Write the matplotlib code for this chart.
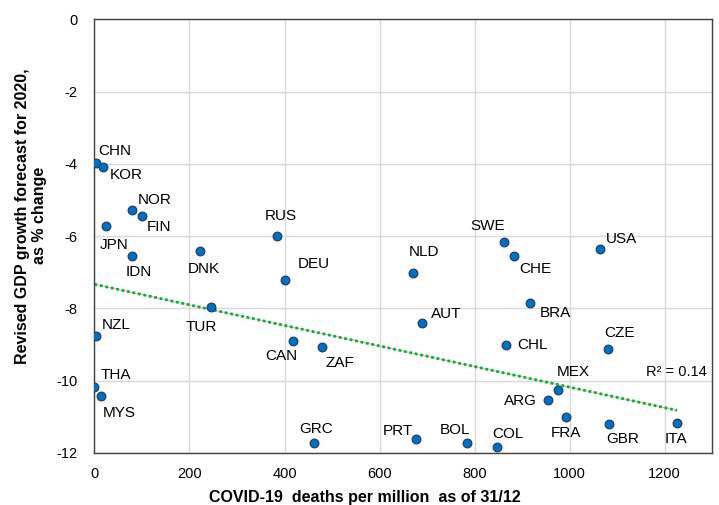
import matplotlib.pyplot as plt

plt.rcParams['font.family'] = ['Liberation Sans', 'DejaVu Sans']
plt.rcParams['axes.unicode_minus'] = False

countries = ['CHN', 'KOR', 'NOR', 'FIN', 'JPN', 'RUS', 'DNK', 'IDN', 'SWE', 'CHE',
             'USA', 'DEU', 'TUR', 'NZL', 'CAN', 'ZAF', 'THA', 'MYS', 'GRC', 'NLD',
             'BRA', 'AUT', 'CHL', 'CZE', 'MEX', 'ARG', 'FRA', 'GBR', 'ITA', 'PRT',
             'BOL', 'COL']
deaths = [2.5, 17, 79, 100, 24, 384, 222, 79, 862, 882,
          1064, 402, 246, 4, 417, 478, 0, 14, 462, 670,
          917, 690, 867, 1080, 975, 955, 992, 1083, 1226, 676,
          784, 848]
gdp = [-3.96, -4.09, -5.26, -5.44, -5.73, -5.99, -6.40, -6.55, -6.16, -6.54,
       -6.36, -7.22, -7.97, -8.76, -8.89, -9.07, -10.17, -10.41, -11.72, -7.02,
       -7.84, -8.40, -9.01, -9.11, -10.27, -10.52, -11.01, -11.21, -11.17, -11.61,
       -11.71, -11.83]

# label offsets in pixels (dx, dy) and horizontal alignment
label_pos = {
    'CHN': (3, 12, 'left'), 'KOR': (7, -8, 'left'), 'NOR': (6, 10, 'left'),
    'FIN': (5, -11, 'left'), 'JPN': (8, -19, 'center'), 'RUS': (4, 20, 'center'),
    'DNK': (4, -18, 'center'), 'IDN': (7, -16, 'center'), 'SWE': (-16, 16, 'center'),
    'CHE': (6, -13, 'left'), 'USA': (6, 10, 'left'), 'DEU': (12, 16, 'left'),
    'TUR': (-10, -20, 'center'), 'NZL': (5, 11, 'left'), 'CAN': (-11, -15, 'center'),
    'ZAF': (18, -16, 'center'), 'THA': (6, 12, 'left'), 'MYS': (1.5, -17, 'left'),
    'GRC': (2, 14, 'center'), 'NLD': (11, 21, 'center'), 'BRA': (10, -10, 'left'),
    'AUT': (9, 9, 'left'), 'CHL': (11, 0, 'left'), 'CZE': (12, 16, 'center'),
    'MEX': (16, 18, 'center'), 'ARG': (-11, -1, 'right'), 'FRA': (0, -16, 'center'),
    'GBR': (14, -15, 'center'), 'ITA': (-1, -16, 'center'), 'PRT': (-18, 8, 'center'),
    'BOL': (-12, 13, 'center'), 'COL': (11, 13, 'center'),
}

trend_x = [0, 1226]
trend_y = [-7.33, -10.82]

fig = plt.figure(figsize=(7.19, 5.05), dpi=100)
ax = fig.add_axes([0.1314, 0.103, 0.859, 0.8584])

ax.set_xlim(0, 1300)
ax.set_ylim(-12, 0)
ax.set_xticks(range(0, 1201, 200))
ax.set_yticks(range(-12, 1, 2))
ax.grid(True, color='#D9D9D9', linewidth=1)
ax.set_axisbelow(True)
ax.tick_params(length=0, labelsize=10.5, colors='black')
ax.tick_params(axis='y', pad=12)
ax.tick_params(axis='x', pad=10)
for s in ax.spines.values():
    s.set_color('#404040')
    s.set_linewidth(1)

ax.plot(trend_x, trend_y, color='#F4B183', linewidth=0.8, zorder=2)
ax.plot(trend_x, trend_y, color='#00B050', linewidth=2, linestyle=(0, (1, 1)), zorder=2)

ax.scatter(deaths, gdp, s=40, color='#0070C0', edgecolors='#1F3864', linewidths=0.8, zorder=3)

for c, x, y in zip(countries, deaths, gdp):
    dx, dy, ha = label_pos[c]
    ax.annotate(c, (x, y), xytext=(dx, dy), textcoords='offset pixels',
                ha=ha, va='center', fontsize=11)

ax.text(0.992, 0.1876, 'R² = 0.14', transform=ax.transAxes, ha='right', va='center', fontsize=10.5)

ax.set_xlabel('COVID-19  deaths per million  as of 31/12', fontsize=11.5, fontweight='bold')
ax.set_ylabel('Revised GDP growth forecast for 2020,\nas % change', fontsize=11.5,
              fontweight='bold', linespacing=1.15)
ax.xaxis.set_label_coords(0.438, -0.085)
ax.yaxis.set_label_coords(-0.077, 0.547)

fig.savefig('out.png', dpi=100)
